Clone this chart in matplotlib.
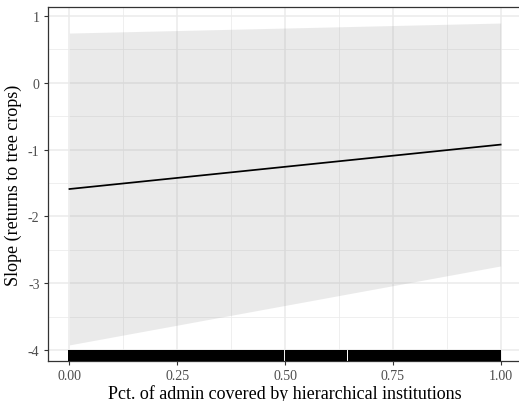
import matplotlib
matplotlib.use("Agg")
import matplotlib.pyplot as plt
from matplotlib.ticker import MultipleLocator

plt.rcParams["font.family"] = ["Liberation Serif", "DejaVu Serif"]
plt.rcParams["axes.unicode_minus"] = False

# fitted marginal effect and its confidence band
x_ends = [0.0, 1.0]
slope_fit = [-1.59, -0.925]
ci_upper = [0.745, 0.895]
ci_lower = [-3.924, -2.742]

# observed share of admin units covered (rug)
rug_x = [
    0.006, 0.016, 0.026, 0.036, 0.046, 0.056, 0.063,
    0.078, 0.088, 0.092,
    0.107, 0.117, 0.127, 0.137, 0.146, 0.150,
    0.165, 0.175, 0.185, 0.195, 0.205, 0.215, 0.225, 0.235, 0.245,
    0.255, 0.265, 0.275, 0.285, 0.295, 0.305, 0.315, 0.325, 0.335,
    0.345, 0.355, 0.365, 0.375, 0.385, 0.395, 0.405, 0.415, 0.425,
    0.435, 0.445, 0.455, 0.465, 0.471,
    0.487, 0.489,
    0.508, 0.515, 0.525, 0.535, 0.545, 0.555, 0.565, 0.575, 0.585,
    0.595, 0.605, 0.615, 0.625, 0.632, 0.635,
    0.654, 0.661, 0.671, 0.681, 0.691, 0.701, 0.711, 0.721, 0.731,
    0.741, 0.751, 0.761, 0.771, 0.781, 0.791, 0.801, 0.811, 0.821,
    0.831, 0.841, 0.851, 0.861, 0.871, 0.881, 0.891, 0.901, 0.911,
    0.921, 0.931, 0.941, 0.951, 0.961, 0.971, 0.981, 0.989, 0.993,
]

x_ticks = [0.0, 0.25, 0.5, 0.75, 1.0]
x_tick_labels = ["0.00", "0.25", "0.50", "0.75", "1.00"]
y_ticks = [-4, -3, -2, -1, 0, 1]

fig = plt.figure(figsize=(5.19, 4.02), dpi=100)
ax = fig.add_axes([47.9 / 519, 40 / 402, 474.3 / 519, 354 / 402])

ax.set_xlim(-0.05, 1.05)
ax.set_ylim(-4.165, 1.135)

# theme_bw-like grid
ax.set_axisbelow(True)
ax.xaxis.set_minor_locator(MultipleLocator(0.125))
ax.yaxis.set_minor_locator(MultipleLocator(0.5))
ax.grid(which="major", color="#EBEBEB", linewidth=1.1)
ax.grid(which="minor", color="#EBEBEB", linewidth=0.55)
ax.tick_params(which="minor", length=0)

ax.fill_between(x_ends, ci_lower, ci_upper, color="#999999", alpha=0.2,
                linewidth=0, zorder=2)
ax.plot(x_ends, slope_fit, color="black", linewidth=1.25, zorder=3)

# rug along the bottom, 3% of the panel height
trans = ax.get_xaxis_transform()
ax.vlines(rug_x, 0, 0.03, transform=trans, color="black", linewidth=4.6,
          capstyle="butt", snap=False, antialiased=False, zorder=4)

ax.set_xticks(x_ticks)
ax.set_xticklabels(x_tick_labels)
ax.set_yticks(y_ticks)
ax.tick_params(which="major", length=3, width=0.8, color="#333333",
               labelcolor="#4D4D4D", labelsize=10, pad=3)

for side in ["left", "bottom", "top"]:
    ax.spines[side].set_color("#333333")
    ax.spines[side].set_linewidth(0.9)
ax.spines["right"].set_visible(False)

ax.set_xlabel("Pct. of admin covered by hierarchical institutions",
              fontsize=13, labelpad=1)
ax.set_ylabel("Slope (returns to tree crops)", fontsize=13, labelpad=4)

fig.savefig("out.png", dpi=100)
